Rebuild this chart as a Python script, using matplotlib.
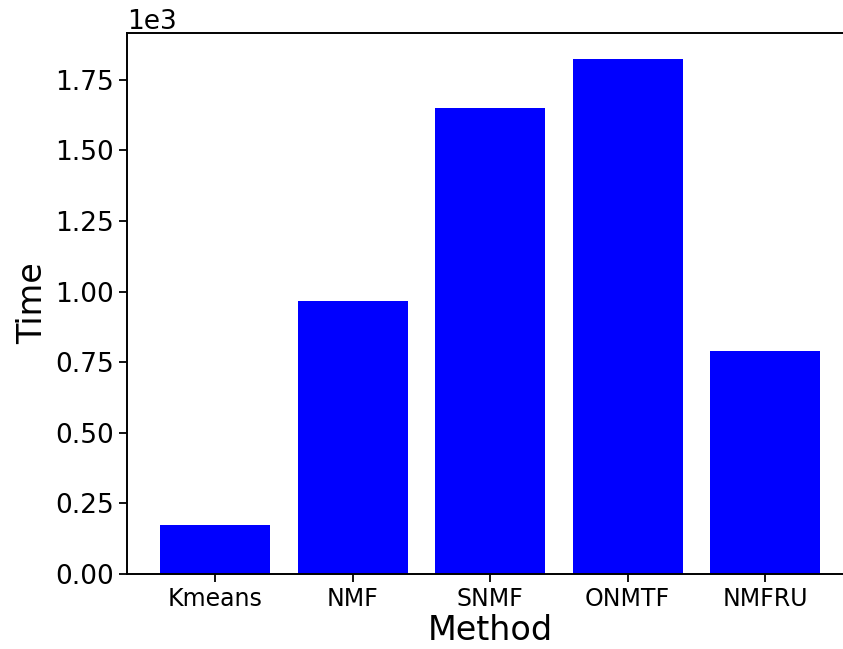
import matplotlib
matplotlib.use('Agg')
import matplotlib.pyplot as plt

# run time per method
methods = ['Kmeans', 'NMF', 'SNMF', 'ONMTF', 'NMFRU']
times = [174, 967, 1651, 1824, 790]

fig = plt.figure(figsize=(8.43, 6.49), dpi=100)
ax = fig.add_axes([0.1507, 0.1156, 1.0119 - 0.1507, 0.949 - 0.1156])
ax.bar(methods, times, color='blue', width=0.8)
ax.ticklabel_format(axis='y', style='sci', scilimits=(0, 0))
ax.yaxis.get_offset_text().set_fontsize(19)
ax.tick_params(axis='y', labelsize=19, length=6, width=1.3)
ax.tick_params(axis='x', labelsize=17, length=6, width=1.3)
for s in ax.spines.values():
    s.set_linewidth(1.4)
ax.set_xlabel('Method', fontsize=24, labelpad=2)
ax.set_ylabel('Time', fontsize=24)
fig.savefig('out.png', dpi=100)
